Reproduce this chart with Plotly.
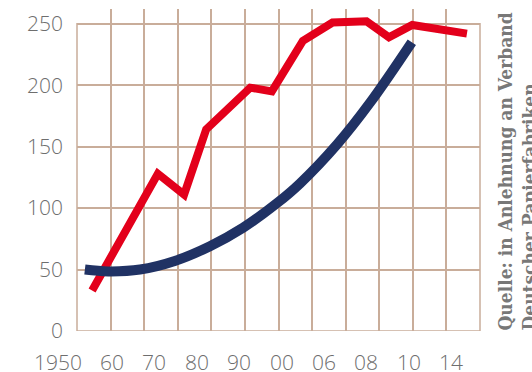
import plotly.graph_objects as go

# ---- data (x in label-index units: 0 = "1950", 1 = "60", ... 9 = "14") ----
x_labels = ["1950", "60", "70", "80", "90", "00", "06", "08", "10", "14"]
y_ticks = [0, 50, 100, 150, 200, 250]

red_x = [0.46, 2.01, 2.63, 3.15, 4.19, 4.70, 5.43, 6.13, 6.93, 7.46, 8.01, 9.30]
red_y = [33, 128, 111, 164, 198, 195, 236, 251, 252, 239, 249, 242]

blue_x = [0.29, 0.84, 1.59, 2.41, 3.24, 4.02, 4.82, 5.36, 6.24, 7.02, 8.00]
blue_y = [50, 48.5, 50, 57, 69, 84, 104, 120, 152, 186, 235]

source_lines = ["Quelle: in Anlehnung an Verband", "Deutscher Papierfabriken"]
grid_columns = 12

# ---- styles ----
RED = "#e3001b"
BLUE = "#203264"
GRID = "#c9ad9a"
LABEL = "#6e6e6e"
tick_font = dict(family="Open Sans", size=21, color=LABEL, weight=300)
X_RANGE = [0.104, 9.608]

fig = go.Figure()
fig.add_trace(go.Scatter(x=red_x, y=red_y, mode="lines",
                         line=dict(color=RED, width=8), hoverinfo="skip",
                         showlegend=False))
fig.add_trace(go.Scatter(x=blue_x, y=blue_y, mode="lines",
                         line=dict(color=BLUE, width=10, shape="spline", smoothing=1),
                         hoverinfo="skip", showlegend=False))
# helper trace so the grid axis is drawn
fig.add_trace(go.Scatter(x=[0], y=[0], xaxis="x2", mode="markers",
                         marker=dict(opacity=0), hoverinfo="skip", showlegend=False))

annotations = []
for i, lab in enumerate(x_labels):
    px = (i - X_RANGE[0]) / (X_RANGE[1] - X_RANGE[0])
    annotations.append(dict(x=px, xref="paper", y=-0.095, yref="paper", text=lab,
                            xanchor="right", yanchor="middle", xshift=11,
                            showarrow=False, font=tick_font))
annotations.append(dict(x=1.03, xref="paper", y=-0.006, yref="paper",
                        text="<br>".join("<b>%s</b>" % s for s in source_lines),
                        textangle=-90, xanchor="left", yanchor="bottom",
                        align="left", showarrow=False,
                        font=dict(family="DejaVu Serif Condensed, DejaVu Serif",
                                  size=19, color="#787878")))

fig.update_layout(
    width=532, height=372,
    margin=dict(l=77, r=52, t=9, b=41),
    paper_bgcolor="white", plot_bgcolor="white",
    xaxis=dict(range=X_RANGE, showgrid=False, showticklabels=False,
               zeroline=False, showline=False, ticks=""),
    xaxis2=dict(overlaying="x", range=[0, grid_columns], dtick=1, tick0=0,
                showgrid=True, gridcolor=GRID, gridwidth=1.5,
                showticklabels=False, zeroline=False, ticks="", side="bottom"),
    yaxis=dict(range=[0, 262], tickvals=y_ticks, showgrid=True, gridcolor=GRID,
               gridwidth=1.5, zeroline=False, ticks="", tickfont=tick_font,
               ticklabelstandoff=13),
    shapes=[dict(type="rect", xref="paper", x0=0, x1=1, yref="y", y0=0, y1=250,
                 line=dict(color=GRID, width=1.5), layer="below")],
    annotations=annotations,
)

fig.write_html("out.html")
